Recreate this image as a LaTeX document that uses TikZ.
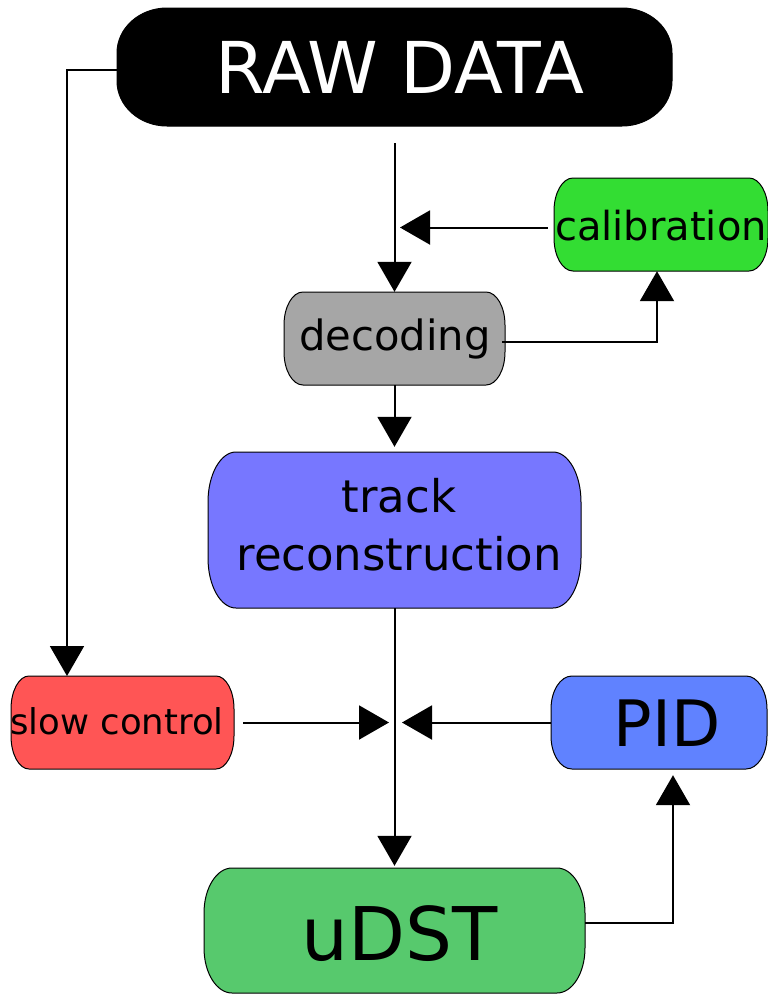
\documentclass[tikz,border=0pt]{standalone}
\usepackage{fontspec}
\setmainfont{DejaVu Sans}
\usetikzlibrary{arrows.meta}
\definecolor{calgreen}{HTML}{33DD33}
\definecolor{decgray}{HTML}{A6A6A6}
\definecolor{trackblue}{HTML}{7777FF}
\definecolor{slowred}{HTML}{FF5555}
\definecolor{pidblue}{HTML}{6082FF}
\definecolor{udstgreen}{HTML}{57C96D}
\tikzset{
  frame/.style={inner sep=0pt, draw=none},
  conn/.style={line width=2pt, -{Triangle[length=30pt,width=34pt]}},
  lbl/.style={inner sep=0pt, anchor=base},
  boxline/.style={draw=black, line width=1pt},
}
% x1 y1 x2 y2 rx ry colour  (y grows downwards)
\newcommand{\rrbox}[7]{%
  \filldraw[boxline, fill=#7] ({#1+#5},#2) -- ({#3-#5},#2)
    arc[start angle=270, end angle=360, x radius=#5, y radius=#6]
    -- (#3,{#4-#6})
    arc[start angle=0, end angle=90, x radius=#5, y radius=#6]
    -- ({#1+#5},#4)
    arc[start angle=90, end angle=180, x radius=#5, y radius=#6]
    -- (#1,{#2+#6})
    arc[start angle=180, end angle=270, x radius=#5, y radius=#6]
    -- cycle;}
\begin{document}
\begin{tikzpicture}[x=1pt, y=-1pt]
  \fill[white] (0,0) rectangle (768,994);
  \useasboundingbox (0,0) rectangle (768,994);

  % box frames (named nodes)
  \node[frame, minimum width=555pt, minimum height=118pt] (raw)   at (394.5,67)  {};
  \node[frame, minimum width=214pt, minimum height=93pt]  (cal)   at (661,224.5) {};
  \node[frame, minimum width=221pt, minimum height=93pt]  (dec)   at (394.5,338.5) {};
  \node[frame, minimum width=373pt, minimum height=156pt] (track) at (394.5,530) {};
  \node[frame, minimum width=223pt, minimum height=93pt]  (slow)  at (122.5,722.5) {};
  \node[frame, minimum width=216pt, minimum height=93pt]  (pid)   at (659,722.5) {};
  \node[frame, minimum width=381pt, minimum height=125pt] (udst)  at (394.5,930.5) {};

  % box shapes
  \rrbox{117}{8}{672}{126}{50}{45}{black}
  \rrbox{554}{178}{768}{271}{19}{33}{calgreen}
  \rrbox{284}{292}{505}{385}{19}{33}{decgray}
  \rrbox{208}{452}{581}{608}{28}{50}{trackblue}
  \rrbox{11}{676}{234}{769}{18}{33}{slowred}
  \rrbox{551}{676}{767}{769}{21}{33}{pidblue}
  \rrbox{204}{868}{585}{993}{28}{45}{udstgreen}

  % texts
  \node[lbl, text=white, font=\fontsize{71.5}{86}\selectfont] (rawt) at (400,93) {RAW DATA};
  \node[lbl, font=\fontsize{40}{48}\selectfont] (calt) at (661,240) {calibration};
  \node[lbl, font=\fontsize{41.7}{50}\selectfont] (dect) at (395,350) {decoding};
  \node[inner sep=0pt, align=center, font=\fontsize{45}{58}\selectfont] (trackt) at (399,525) {track\\reconstruction};
  \node[lbl, font=\fontsize{35.5}{42}\selectfont] (slowt) at (117,734.3) {slow control};
  \node[lbl, font=\fontsize{64}{76}\selectfont] (pidt) at (667,746.7) {PID};
  \node[lbl, font=\fontsize{74}{88}\selectfont] (udstt) at (400,960) {uDST};

  % free connector ends
  \coordinate (slowtop) at (67,676);
  \coordinate (rawout) at (394.5,143);
  \coordinate (calarrow) at (400,227.5);
  \coordinate (junL) at (389,722.5);
  \coordinate (junR) at (402,722.5);

  % connectors
  \draw[conn] ([yshift=-3pt]raw.west) -| (slowtop);
  \draw[conn] (rawout) -- (dec.north);
  \draw[conn] ([xshift=-6pt,yshift=-3pt]cal.west) -- (calarrow);
  \draw[conn] ([xshift=-3pt,yshift=-3.5pt]dec.east) -| ([xshift=-4pt]cal.south);
  \draw[conn] (dec.south) -- ([yshift=5pt]track.north);
  \draw[conn] (track.south) -- ([yshift=2pt]udst.north);
  \draw[conn] ([xshift=9pt]slow.east) -- (junL);
  \draw[conn] (pid.west) -- (junR);
  \draw[conn] ([yshift=7.5pt]udst.east) -| ([xshift=14pt,yshift=-6pt]pid.south);
\end{tikzpicture}
\end{document}
